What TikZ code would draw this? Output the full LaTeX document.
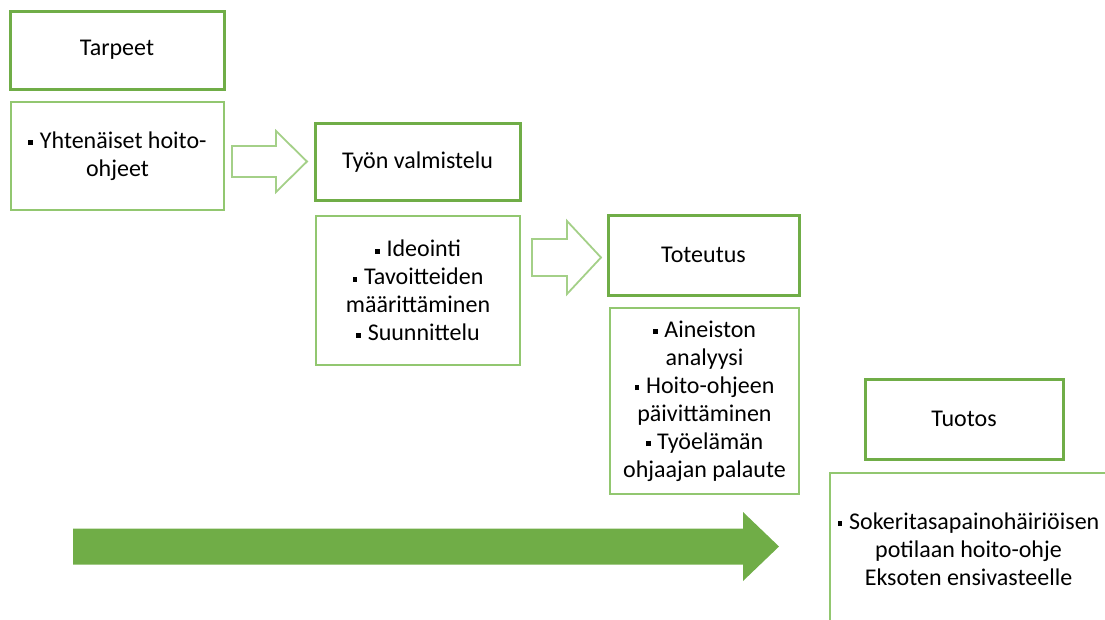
\documentclass[tikz,border=0pt]{standalone}
\usepackage{fontspec}
\setmainfont{Carlito}
\usepackage{xcolor}
\usetikzlibrary{positioning}
\definecolor{themeGreen}{RGB}{112,173,71}
\definecolor{lightGreen}{RGB}{146,199,112}
\definecolor{paleGreen}{RGB}{164,208,136}
\newcommand\sqbul{\raisebox{0.13em}{\rule{0.2em}{0.2em}}\hspace{0.28em}}

\begin{document}
\begin{tikzpicture}[x=1pt,y=-1pt,
  every node/.style={font=\fontsize{24}{28}\selectfont, align=center, inner sep=0pt},
  headbox/.style={draw=themeGreen, line width=3pt},
  listbox/.style={draw=lightGreen, line width=1.6pt},
  hollow/.style={draw=paleGreen, line width=1.8pt, line join=miter},
]
\newcommand\BlockArrow[6]{(#1,#2-#4) -- (#3,#2-#4) -- (#3,#2-#5) -- (#6,#2) -- (#3,#2+#5) -- (#3,#2+#4) -- (#1,#2+#4) -- cycle}
\useasboundingbox (0,0) rectangle (1105,619);

% stages
\node [headbox, minimum width=214pt, minimum height=78pt] (tarpeet) at (117,50) {Tarpeet};
\node [listbox, minimum width=213pt, minimum height=108pt] (tarpeetList) at (117.5,156)
  {\sqbul Yhtenäiset hoito-\\ohjeet};

\node [headbox, minimum width=205pt, minimum height=77pt] (valmistelu) at (417.5,162) {Työn valmistelu};
\node [listbox, minimum width=204pt, minimum height=149pt] (valmisteluList) at (418,290.5)
  {\sqbul Ideointi\\\sqbul Tavoitteiden\\määrittäminen\\\sqbul Suunnittelu};

\node [headbox, minimum width=191pt, minimum height=80pt] (toteutus) at (703.5,255) {Toteutus};
\node [listbox, minimum width=189pt, minimum height=186pt] (toteutusList) at (704.5,401)
  {\sqbul Aineiston\\analyysi\\\sqbul Hoito-ohjeen\\päivittäminen\\\sqbul Työelämän\\ohjaajan palaute};

\node [headbox, minimum width=198pt, minimum height=80pt] (tuotos) at (964,419) {Tuotos};
\node [listbox, minimum width=277pt, minimum height=152pt] (tuotosList) at (968.5,549)
  {\sqbul Sokeritasapainohäiriöisen\\potilaan hoito-ohje\\Eksoten ensivasteelle};

% arrows
\draw [hollow] \BlockArrow{232}{161.5}{276}{15.5}{30.5}{307};
\draw [hollow] \BlockArrow{532}{257.5}{567}{18.5}{36.5}{601};
\fill [themeGreen] \BlockArrow{73}{546.5}{743}{18}{34.5}{779};
\end{tikzpicture}
\end{document}
